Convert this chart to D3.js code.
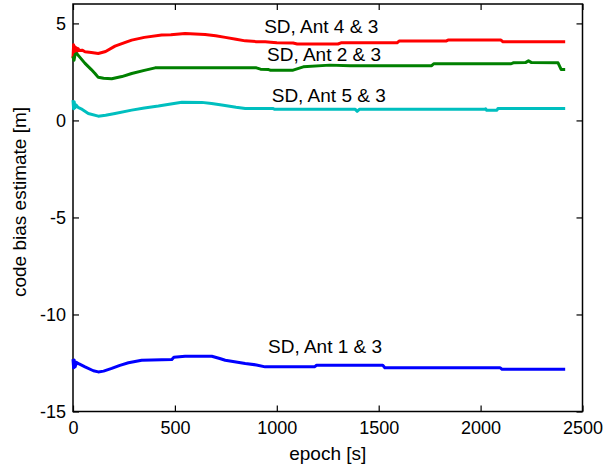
<!DOCTYPE html>
<html>
<head>
	<title>code bias estimate</title>
	<meta charset='utf-8'>
	<style>
		body {
			margin: 0;
			background: #fff;
		}

		.chart {
			background-color: #fff;
			font-family: 'Liberation Sans', Arial, sans-serif;
		}

		.tick > text {
			fill: #000;
			font-size: 18px;
			font-family: 'Liberation Sans', Arial, sans-serif;
		}

		.tick > line {
			stroke: #000;
			stroke-width: 1.2px;
		}

		.axis path.domain {
			stroke-width: 0;
		}

		.frame {
			fill: none;
			stroke: #000;
			stroke-width: 1.5px;
		}

		.line {
			fill: none;
			stroke-width: 3px;
			stroke-linejoin: round;
		}

		.label {
			font-size: 19px;
			fill: #000;
		}
	</style>
</head>
<body>

<script src='https://d3js.org/d3.v7.min.js'></script>
<script>
	'use strict';

	// значения
	const xTicks = [0, 500, 1000, 1500, 2000, 2500];
	const yTicks = [-15, -10, -5, 0, 5];

	const ant4T = [0, 3, 6, 9, 12, 16, 20, 25, 30, 45, 59, 90, 124, 160, 206, 250, 288, 350, 435, 480, 550, 648, 700, 747, 800, 845, 900, 943, 970, 1000, 1080, 1100, 1300, 1315, 1590, 1600, 1830, 1840, 2100, 2110, 2415];
	const ant4V = [3.2, 3.9, 3.3, 3.8, 3.5, 3.75, 3.55, 3.7, 3.6, 3.62, 3.54, 3.5, 3.45, 3.55, 3.83, 4.0, 4.14, 4.28, 4.4, 4.42, 4.48, 4.43, 4.36, 4.28, 4.18, 4.1, 4.06, 4.05, 4.03, 4.0, 3.99, 3.94, 3.94, 4.0, 4.0, 4.09, 4.09, 4.14, 4.14, 4.05, 4.05];

	const ant2T = [0, 5, 10, 18, 30, 59, 90, 108, 124, 150, 190, 240, 288, 350, 403, 600, 900, 920, 960, 970, 1080, 1130, 1260, 1360, 1760, 1770, 2150, 2160, 2220, 2235, 2250, 2380, 2395, 2415];
	const ant2V = [3.31, 3.1, 3.4, 3.45, 3.3, 2.94, 2.62, 2.42, 2.22, 2.17, 2.15, 2.26, 2.42, 2.58, 2.71, 2.72, 2.71, 2.64, 2.62, 2.58, 2.59, 2.76, 2.85, 2.82, 2.82, 2.92, 2.92, 2.97, 2.98, 3.07, 2.98, 2.97, 2.63, 2.63];

	const ant5T = [0, 3, 6, 10, 15, 25, 40, 75, 124, 160, 206, 288, 350, 419, 480, 534, 632, 680, 730, 800, 845, 980, 990, 1385, 1394, 1405, 2020, 2025, 2030, 2080, 2085, 2415];
	const ant5V = [1.05, 0.6, 0.95, 0.65, 0.8, 0.67, 0.6, 0.36, 0.22, 0.27, 0.36, 0.53, 0.64, 0.74, 0.85, 0.94, 0.93, 0.87, 0.79, 0.68, 0.62, 0.62, 0.57, 0.57, 0.47, 0.57, 0.57, 0.6, 0.52, 0.52, 0.62, 0.62];

	const ant1T = [0, 3, 6, 10, 18, 30, 59, 100, 124, 150, 190, 230, 272, 337, 485, 495, 550, 681, 720, 747, 800, 845, 900, 943, 1185, 1195, 1520, 1530, 2095, 2105, 2415];
	const ant1V = [-12.3, -12.75, -12.35, -12.7, -12.47, -12.55, -12.7, -12.9, -12.96, -12.92, -12.78, -12.62, -12.49, -12.36, -12.32, -12.2, -12.15, -12.15, -12.27, -12.36, -12.45, -12.53, -12.6, -12.7, -12.7, -12.62, -12.62, -12.74, -12.74, -12.82, -12.82];

	const seriesNames = ['SD, Ant 4 & 3', 'SD, Ant 2 & 3', 'SD, Ant 5 & 3', 'SD, Ant 1 & 3'];
	const seriesColors = ['#ff0000', '#008000', '#00bfbf', '#0000ff'];
	// где стоят подписи (epoch, value)
	const labelT = [938, 952, 975, 957];
	const labelV = [4.5, 3.08, 0.96, -11.98];

	const margin = {top: 4, right: 20.5, bottom: 56.5, left: 73};
	const width = 603 - margin.left - margin.right;
	const height = 468 - margin.top - margin.bottom;

	const xScale = d3.scaleLinear().domain([0, 2500]).range([0, width]);
	const yScale = d3.scaleLinear().domain([-15, 6]).range([height, 0]);

	const plain = function(d) {return String(d);}; // без запятых и без юникодного минуса

	const svg = d3.select('body').append('svg')
		.attr('class', 'chart')
		.attr('width', 603)
		.attr('height', 468)
		.append('g')
		.attr('transform', 'translate(' + margin.left + ',' + margin.top + ')');

	// оси, засечки внутрь
	svg.append('g')
		.attr('class', 'axis axis__x')
		.attr('transform', 'translate(0,' + height + ')')
		.call(d3.axisBottom(xScale).tickValues(xTicks).tickFormat(plain).tickSizeInner(-6).tickSizeOuter(0).tickPadding(10));

	svg.append('g')
		.attr('class', 'axis axis__x2')
		.call(d3.axisTop(xScale).tickValues(xTicks).tickSizeInner(-6).tickSizeOuter(0).tickFormat(''));

	svg.append('g')
		.attr('class', 'axis axis__y')
		.call(d3.axisLeft(yScale).tickValues(yTicks).tickFormat(plain).tickSizeInner(-6).tickSizeOuter(0).tickPadding(7));

	svg.append('g')
		.attr('class', 'axis axis__y2')
		.attr('transform', 'translate(' + width + ',0)')
		.call(d3.axisRight(yScale).tickValues(yTicks).tickSizeInner(-6).tickSizeOuter(0).tickFormat(''));

	svg.append('rect')
		.attr('class', 'frame')
		.attr('width', width)
		.attr('height', height);

	const series = [
		{t: ant4T, v: ant4V},
		{t: ant2T, v: ant2V},
		{t: ant5T, v: ant5V},
		{t: ant1T, v: ant1V}
	].map(function(s, i) {
		return {
			name: seriesNames[i],
			color: seriesColors[i],
			points: s.t.map(function(t, j) {return {t: t, v: s.v[j]};})
		};
	});

	const line = d3.line()
		.x(function(d) {return xScale(d.t);})
		.y(function(d) {return yScale(d.v);});

	svg.selectAll('.line')
		.data(series)
		.enter()
		.append('path')
		.attr('class', 'line')
		.attr('stroke', function(d) {return d.color;})
		.attr('d', function(d) {return line(d.points);});

	svg.selectAll('.label')
		.data(series)
		.enter()
		.append('text')
		.attr('class', 'label')
		.attr('x', function(d, i) {return xScale(labelT[i]);})
		.attr('y', function(d, i) {return yScale(labelV[i]);})
		.text(function(d) {return d.name;});

	// подписи осей
	svg.append('text')
		.attr('class', 'label')
		.attr('text-anchor', 'middle')
		.attr('x', width / 2)
		.attr('y', height + 48)
		.text('epoch [s]');

	svg.append('text')
		.attr('class', 'label')
		.attr('text-anchor', 'middle')
		.attr('transform', 'translate(' + (26 - margin.left) + ',' + (202 - margin.top) + ') rotate(-90)')
		.text('code bias estimate [m]');
</script>
</body>
</html>
